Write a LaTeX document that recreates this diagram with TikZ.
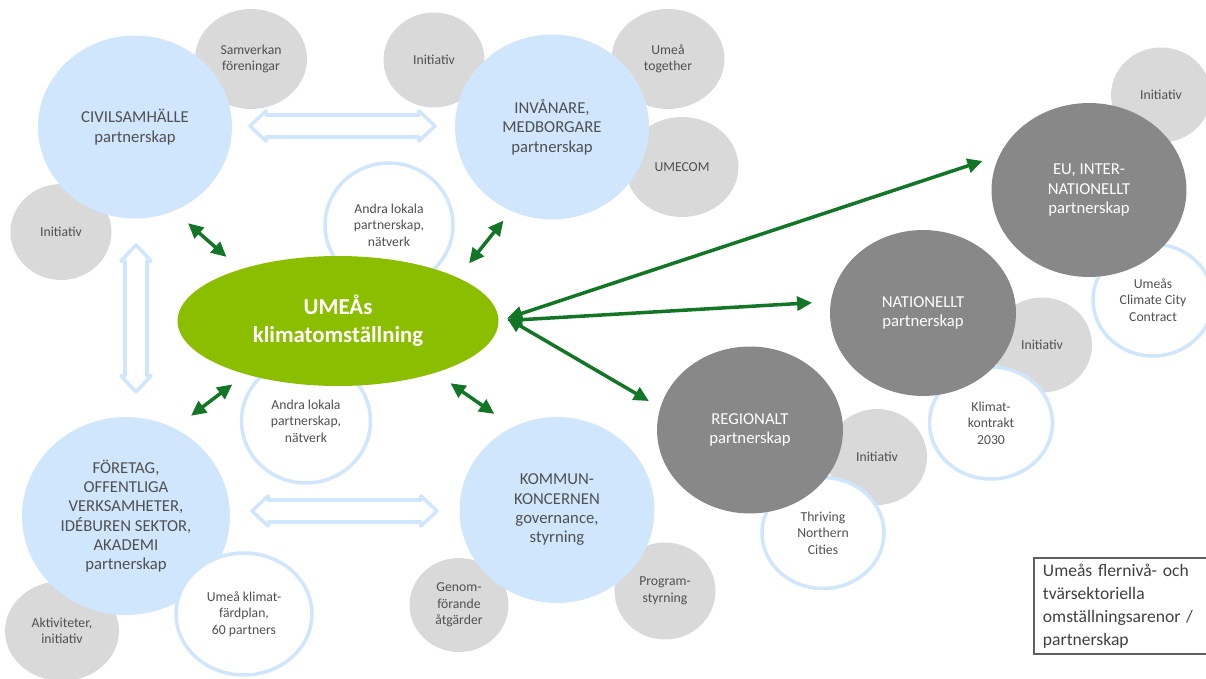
\documentclass[tikz,border=0pt]{standalone}
\usepackage{fontspec}
\setmainfont{Carlito}
\definecolor{hub_c}{RGB}{208,230,252}
\definecolor{side_c}{RGB}{217,217,217}
\definecolor{level_c}{RGB}{136,136,136}
\definecolor{core_c}{RGB}{140,190,0}
\definecolor{link_c}{RGB}{18,118,38}
\definecolor{txt_c}{RGB}{80,80,80}
\definecolor{box_c}{RGB}{96,96,96}
\usetikzlibrary{arrows.meta,
		shapes.geometric}

\begin{document}
\begin{tikzpicture}[
			x=0.02cm, y=-0.02cm,
			every node/.style = {inner sep=0pt, align=center, text=txt_c},
			wh/.style 2 args = {minimum width=#1cm, minimum height=#2cm},
			hub/.style = {ellipse, fill=hub_c, font=\fontsize{9.5}{11}\selectfont},
			side/.style = {ellipse, fill=side_c, font=\fontsize{7.8}{9.4}\selectfont},
			ring/.style = {ellipse, draw=hub_c, line width=2pt, fill=white, font=\fontsize{7.8}{9.4}\selectfont},
			level/.style = {ellipse, fill=level_c, text=white, font=\fontsize{9.5}{11}\selectfont},
			core/.style = {ellipse, fill=core_c, text=white, font=\fontsize{13}{16}\selectfont\bfseries},
			link/.style = {draw=link_c, line width=2pt, {Triangle[length=0.3cm,width=0.28cm]}-{Triangle[length=0.3cm,width=0.28cm]}},
			wide/.style = {draw=hub_c, line width=2pt, fill=white, line join=round},
			]
			\useasboundingbox (0,0) rectangle (1206,679);
			% grey circles
			\node[side, wh={2.24}{2.0}] (sam) at (251,59) {Samverkan\\föreningar};
			\node[side, wh={2.02}{1.92}] (ini1) at (61,232) {Initiativ};
			\node[side, wh={2.02}{1.9}] (ini2) at (434,60) {Initiativ};
			\node[side, wh={2.26}{2.0}] (tog) at (668,59) {Umeå\\together};
			\node[side, wh={2.26}{2.0}] (umecom) at (682,167) {UMECOM};
			\node[side, wh={2.28}{2.0}] (akt) at (62,631) {Aktiviteter,\\initiativ};
			\node[side, wh={1.98}{1.88}] (gen) at (459,605) {Genom-\\förande\\åtgärder};
			\node[side, wh={2.02}{1.94}] (prog) at (665,591) {Program-\\styrning};
			\node[side, wh={2.0}{1.92}] (ini3) at (877,457) {Initiativ};
			\node[side, wh={2.0}{1.9}] (ini4) at (1042,345) {Initiativ};
			\node[side, wh={2.0}{1.9}] (ini5) at (1161,95) {Initiativ};
			% local partners
			\node[hub, wh={3.88}{3.66}] (civ) at (135,127) {CIVILSAMHÄLLE\\partnerskap};
			\node[hub, wh={3.88}{3.7}] (inv) at (552,127) {INVÅNARE,\\MEDBORGARE\\partnerskap};
			\node[hub, wh={4.16}{3.96}] (firm) at (126,516) {FÖRETAG,\\OFFENTLIGA\\VERKSAMHETER,\\IDÉBUREN SEKTOR,\\AKADEMI\\partnerskap};
			\node[hub, wh={3.9}{3.72}] (kom) at (557,510) {KOMMUN-\\KONCERNEN\\governance,\\styrning};
			% networks
			\node[ring, wh={2.56}{2.48}] (net1) at (389,225) {Andra lokala\\partnerskap,\\nätverk};
			\node[ring, wh={2.58}{2.48}] (net2) at (306,421) {Andra lokala\\partnerskap,\\nätverk};
			\node[ring, wh={2.72}{2.44}] (plan) at (244,614) {Umeå klimat-\\färdplan,\\60 partners};
			\node[ring, wh={2.44}{2.22}] (tnc) at (823,533) {Thriving\\Northern\\Cities};
			\node[ring, wh={2.46}{2.24}] (kk) at (991,423) {Klimat-\\kontrakt\\2030};
			\node[ring, wh={2.4}{2.24}] (ccc) at (1153,300) {Umeås\\Climate City\\Contract};
			% other levels
			\node[level, wh={3.72}{3.34}] (reg) at (750,430) {REGIONALT\\partnerskap};
			\node[level, wh={3.72}{3.32}] (nat) at (923,313) {NATIONELLT\\partnerskap};
			\node[level, wh={3.9}{3.48}] (eu) at (1089,190) {EU, INTER-\\NATIONELLT\\partnerskap};
			\node[core, wh={6.42}{2.6}] (klimat) at (338,321) {UMEÅs\\klimatomställning};
			% wide arrows
			\draw[wide] (250,126) -- (266,111) -- (266,115) -- (419,115) -- (419,111) -- (435,126)
				-- (419,141) -- (419,137) -- (266,137) -- (266,141) -- cycle;
			\draw[wide] (252,511) -- (268,496) -- (268,500) -- (421,500) -- (421,496) -- (437,511)
				-- (421,526) -- (421,522) -- (268,522) -- (268,526) -- cycle;
			\draw[wide] (136,245) -- (151,261) -- (147,261) -- (147,376) -- (151,376) -- (136,392)
				-- (121,376) -- (125,376) -- (125,261) -- (121,261) -- cycle;
			% links
			\draw[link, shorten <=0.37cm, shorten >=0.37cm] (civ.-65) -- (klimat.152);
			\draw[link, shorten <=0.24cm, shorten >=0.36cm] (inv.-116) -- (klimat.20);
			\draw[link, shorten <=0.41cm, shorten >=0.33cm] (firm.61) -- (klimat.210);
			\draw[link, shorten <=0.36cm, shorten >=0.45cm] (klimat.-28) -- (kom.118);
			\draw[link, shorten <=0.18cm, shorten >=0.35cm] (klimat.east) -- (eu.159);
			\draw[link, shorten <=0.17cm, shorten >=0.37cm] (klimat.east) -- (nat.173);
			\draw[link, shorten <=0.22cm, shorten >=0.26cm] (klimat.3) -- (reg.166);
			% legend
			\node[draw=box_c, line width=1.1pt, anchor=west, text width=3.14cm, align=left,
				inner xsep=0.18cm, minimum height=1.92cm, text=txt_c!80!black,
				font=\fontsize{10}{13}\selectfont] (note) at (1033,606)
				{Umeås flernivå- och\\tvärsektoriella\\omställningsarenor /\\partnerskap};
\end{tikzpicture}
\end{document}
